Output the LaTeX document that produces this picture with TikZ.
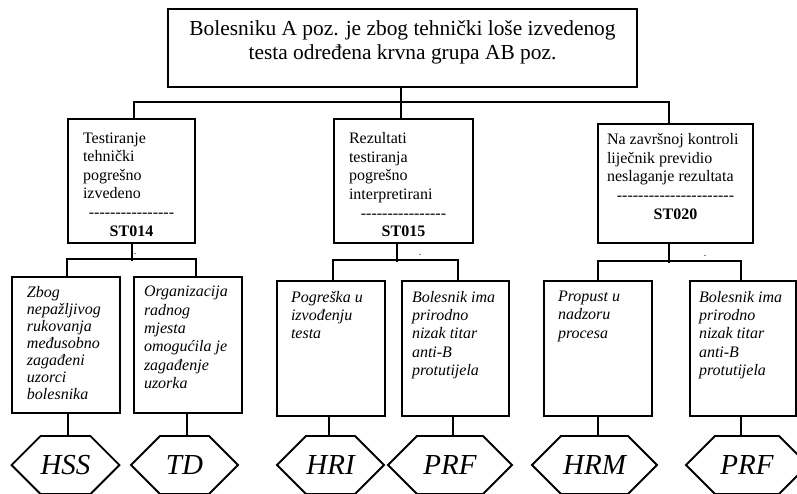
\documentclass[tikz,border=0pt]{standalone}
\usepackage{fontspec}
\setmainfont{Liberation Serif}
\usetikzlibrary{shapes.symbols}

\newcommand\cell[3]{\parbox[c][#2][t]{#1}{#3}}
\newcommand\dashrow[1]{\foreach \k in {1,...,#1}{-{}}}

\begin{document}
\begin{tikzpicture}[x=1pt, y=-1pt, line width=1.8pt, every node/.style={inner sep=0pt},
  topbox/.style={draw, minimum width=469pt, minimum height=78pt, font=\fontsize{21.4}{24}\selectfont},
  cause/.style={draw, minimum height=124pt, font=\fontsize{16}{18.6}\selectfont},
  leaf/.style={draw, minimum width=108pt, minimum height=135pt, font=\fontsize{16}{18.4}\selectfont\itshape},
  code/.style={draw, shape=signal, signal to=west and east, signal pointer angle=90, minimum height=58pt, font=\fontsize{29}{30}\selectfont\itshape}]
\useasboundingbox (0,0) rectangle (797,493);

\node[topbox] (top) at (402.5,48) {\cell{450pt}{54pt}{\centering Bolesniku A poz. je zbog tehnički loše izvedenog\\testa određena krvna grupa AB poz.}};

\node[cause, minimum width=127pt] (b1) at (131.5,181) {\cell{97pt}{97pt}{\raggedright Testiranje\\tehnički\\pogrešno\\izvedeno\par\centering\dashrow{16}\\\textbf{ST014}}};
\node[cause, minimum width=139pt] (b2) at (403.5,181) {\cell{109pt}{97pt}{\raggedright Rezultati\\testiranja\\pogrešno\\interpretirani\par\centering\dashrow{16}\\\textbf{ST015}}};
\node[cause, minimum width=155pt, minimum height=119pt] (b3) at (675.5,183.5) {\cell{137pt}{100pt}{\raggedright Na završnoj kontroli\\liječnik previdio\\neslaganje rezultata\par\centering\dashrow{22}\\\textbf{ST020}}};

\node[leaf, minimum height=136pt, font=\fontsize{16}{17}\selectfont\itshape] (l1) at (66,345) {\cell{78pt}{118pt}{\raggedright Zbog\\nepažljivog\\rukovanja\\međusobno\\zagađeni\\uzorci\\bolesnika}};
\node[leaf, minimum height=136pt] (l2) at (188,345) {\cell{88pt}{118pt}{\raggedright Organizacija\\radnog\\mjesta\\omogućila je\\zagađenje\\uzorka}};
\node[leaf] (l3) at (331,348.5) {\cell{80pt}{115pt}{\raggedright Pogreška u\\izvođenju\\testa}};
\node[leaf, minimum width=107pt] (l4) at (455.5,348.5) {\cell{87pt}{115pt}{\raggedright Bolesnik ima\\prirodno\\nizak titar\\anti-B\\protutijela}};
\node[leaf] (l5) at (598,348.5) {\cell{80pt}{115pt}{\raggedright Propust u\\nadzoru\\procesa}};
\node[leaf, minimum width=106pt] (l6) at (743,348.5) {\cell{88pt}{115pt}{\raggedright Bolesnik ima\\prirodno\\nizak titar\\anti-B\\protutijela}};

\node[code, minimum width=107pt] (h1) at (65.5,465) {HSS};
\node[code, minimum width=107pt] (h2) at (184.5,465) {TD};
\node[code, minimum width=107pt] (h3) at (330.5,465) {HRI};
\node[code, minimum width=124pt] (h4) at (450,465) {PRF};
\node[code, minimum width=125pt] (h5) at (594.5,465) {HRM};
\node[code, minimum width=122pt] (h6) at (747,465) {PRF};

\node (d1) at (135,254) {.};
\node (d2) at (420,255) {.};
\node (d3) at (705,256) {.};

% top level
\draw ([xshift=-1.5pt]top.south) -- ([xshift=-2.5pt]b2.north);
\draw ([xshift=2.5pt]b1.north) -- ++(0,-16) -| ([xshift=-6.5pt]b3.north);

% causes
\draw ([xshift=0.5pt]b1.south) -- ++(0,17);
\draw (l1.north -| b1.west) -- ++(0,-17) -| (l2.north -| b1.east);
\draw ([xshift=-6.5pt]b2.south) -- ++(0,18);
\draw (l3.north -| b2.west) -- ++(0,-20) -| ([xshift=2.5pt]l4.north);
\draw ([xshift=-6.5pt]b3.south) -- ++(0,19);
\draw (l5.north) -- ++(0,-19) -| ([xshift=-2pt]l6.north);

% codes
\draw ([xshift=2pt]l1.south) -- ([xshift=2pt]l1.south |- h1.north);
\draw ([xshift=-1pt]l2.south) -- ([xshift=-1pt]l2.south |- h2.north);
\draw ([xshift=-2pt]l3.south) -- ([xshift=-2pt]l3.south |- h3.north);
\draw ([xshift=-2.5pt]l4.south) -- ([xshift=-2.5pt]l4.south |- h4.north);
\draw (l5.south) -- (l5.south |- h5.north);
\draw ([xshift=-2pt]l6.south) -- ([xshift=-2pt]l6.south |- h6.north);
\end{tikzpicture}
\end{document}
